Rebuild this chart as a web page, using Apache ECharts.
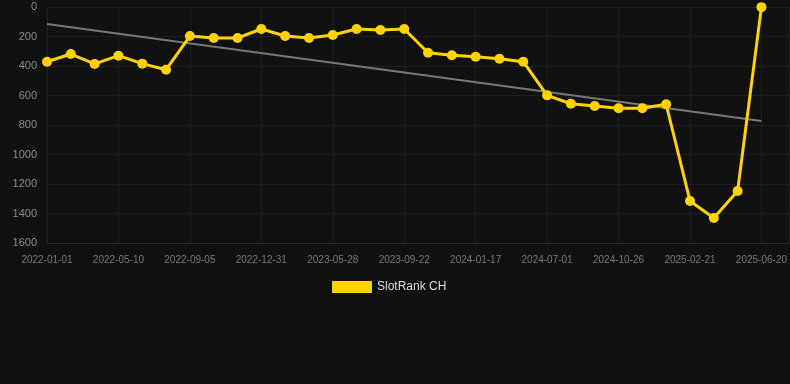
<!DOCTYPE html>
<html>
<head>
<meta charset="utf-8">
<script src="https://cdn.jsdelivr.net/npm/echarts@6/dist/echarts.min.js"></script>
<style>
html,body{margin:0;padding:0;background:#111111;}
#chart{width:790px;height:384px;}
</style>
</head>
<body>
<div id="chart"></div>
<script>
var dates = [
  '2022-01-01','2022-02-13','2022-03-28','2022-05-10','2022-06-18','2022-07-27',
  '2022-09-05','2022-10-14','2022-11-22','2022-12-31','2023-02-19','2023-04-09',
  '2023-05-28','2023-07-06','2023-08-14','2023-09-22','2023-10-31','2023-12-09',
  '2024-01-17','2024-03-11','2024-05-06','2024-07-01','2024-08-08','2024-09-17',
  '2024-10-26','2024-12-04','2025-01-12','2025-02-21','2025-04-01','2025-05-11',
  '2025-06-20'
];
var rankValues = [
  371, 319, 386, 330, 384, 425,
  197, 210, 210, 149, 197, 210,
  190, 149, 156, 149, 310, 327,
  337, 351, 371, 599, 656, 671,
  687, 687, 660, 1315, 1431, 1247,
  1
];
var trendStart = 115;
var trendEnd = 773;
var yTicks = [0, 200, 400, 600, 800, 1000, 1200, 1400, 1600];

var seriesData = rankValues.map(function (v, i) { return [i, v]; });
var trendData = [[0, trendStart], [dates.length - 1, trendEnd]];

var chart = echarts.init(document.getElementById('chart'));
chart.setOption({
  backgroundColor: '#111111',
  animation: false,
  grid: { left: 47, right: 0, top: 7, bottom: 141 },
  legend: {
    data: ['SlotRank CH'],
    top: 276,
    left: 327,
    itemWidth: 40,
    itemHeight: 12,
    icon: 'rect',
    textStyle: { color: '#dddddd', fontSize: 12, fontFamily: 'Liberation Sans, Arial, sans-serif' }
  },
  xAxis: {
    type: 'value',
    min: 0,
    max: 31.17,
    interval: 3,
    axisLine: { onZero: false, lineStyle: { color: '#2a2a2a' } },
    axisTick: { show: false },
    splitLine: { show: true, lineStyle: { color: '#1f1f1f' } },
    axisLabel: {
      color: '#777777',
      fontSize: 10,
      margin: 12,
      showMaxLabel: false,
      fontFamily: 'Liberation Sans, Arial, sans-serif',
      formatter: function (v) { return dates[v] !== undefined ? dates[v] : ''; }
    }
  },
  yAxis: {
    type: 'value',
    inverse: true,
    min: yTicks[0],
    max: yTicks[yTicks.length - 1],
    interval: yTicks[1] - yTicks[0],
    axisLine: { show: false },
    axisTick: { show: false },
    splitLine: { show: true, lineStyle: { color: '#1f1f1f' } },
    axisLabel: {
      color: '#8a8a8a',
      fontSize: 11,
      margin: 10,
      fontFamily: 'Liberation Sans, Arial, sans-serif',
      formatter: function (v) { return String(v); }
    }
  },
  series: [
    {
      name: 'Trend',
      type: 'line',
      data: trendData,
      symbol: 'none',
      lineStyle: { color: '#777777', width: 2 },
      z: 1
    },
    {
      name: 'SlotRank CH',
      type: 'line',
      data: seriesData,
      symbol: 'circle',
      symbolSize: 10,
      itemStyle: { color: '#ffd200' },
      lineStyle: { color: '#ffd200', width: 3 },
      z: 2
    }
  ]
});
</script>
</body>
</html>
